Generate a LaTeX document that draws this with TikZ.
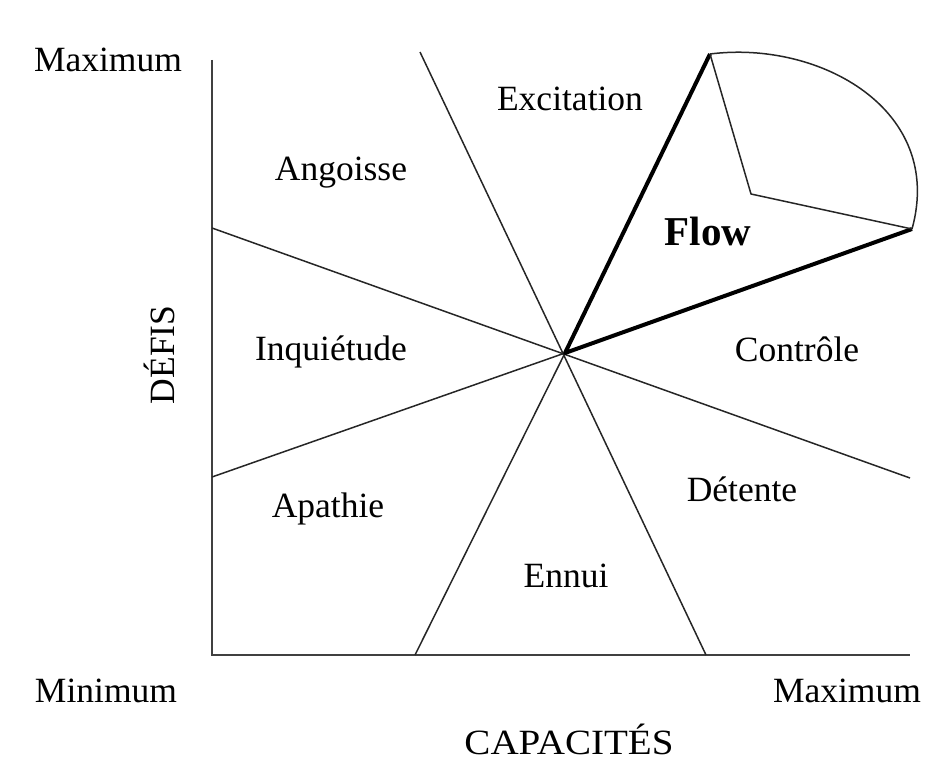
\documentclass[tikz,border=0pt]{standalone}
\usepackage{fontspec}
\usepackage{graphicx}
\setmainfont{Liberation Serif}
\begin{document}
\begin{tikzpicture}[x=1pt,y=-1pt,
  lbl/.style={font=\fontsize{35.5}{40}\selectfont, anchor=base, inner sep=0pt},
  thin/.style={line width=1.5pt, black!85},
  axis/.style={line width=2pt, black!75},
  thick/.style={line width=4pt, black, line join=round},
  arcline/.style={line width=1.5pt, black!85, line join=round}]
\useasboundingbox (0,0) rectangle (936,760);
% points
\coordinate (O) at (212,655);
\coordinate (Ytop) at (212,60);
\coordinate (Xend) at (910,655);
\coordinate (C) at (565,353);
\coordinate (T1) at (420,52);
\coordinate (B1) at (706,655);
\coordinate (L1) at (212,228);
\coordinate (R1) at (910,478);
\coordinate (L2) at (212,477);
\coordinate (B2) at (415,655);
\coordinate (P) at (710,54);
\coordinate (Q) at (912,229);
\coordinate (V) at (751,194);
% axes
\draw[axis] (Ytop) -- (O) -- (Xend);
% thin lines through centre
\draw[thin] (T1) -- (B1);
\draw[thin] (L1) -- (R1);
\draw[thin] (L2) -- (C);
\draw[thin] (B2) -- (C);
% flow wedge
\draw[thick] (P) -- (C) -- (Q);
\draw[arcline] (P) .. controls (820,40) and (945,110) .. (Q);
\draw[arcline] (P) -- (V) -- (Q);
% labels
\node[lbl] (maxy) at (108,71) {Maximum};
\node[lbl] (exc) at (570,110) {Excitation};
\node[lbl] (ang) at (341,180) {Angoisse};
\node[lbl,font=\fontsize{41}{46}\selectfont\bfseries] (flow) at (708,245) {Flow};
\node[lbl] (inq) at (331,360) {Inquiétude};
\node[lbl] (ctl) at (797,361) {Contrôle};
\node[lbl,rotate=90] (defis) at (174,355) {DÉFIS};
\node[lbl] (det) at (742,501) {Détente};
\node[lbl] (apa) at (328,517) {Apathie};
\node[lbl] (enn) at (566,587) {Ennui};
\node[lbl] (miny) at (106,702) {Minimum};
\node[lbl] (maxx) at (847,702) {Maximum};
\node[lbl] (cap) at (569,754) {\scalebox{1.1}[1]{CAPACITÉS}};
\end{tikzpicture}
\end{document}
